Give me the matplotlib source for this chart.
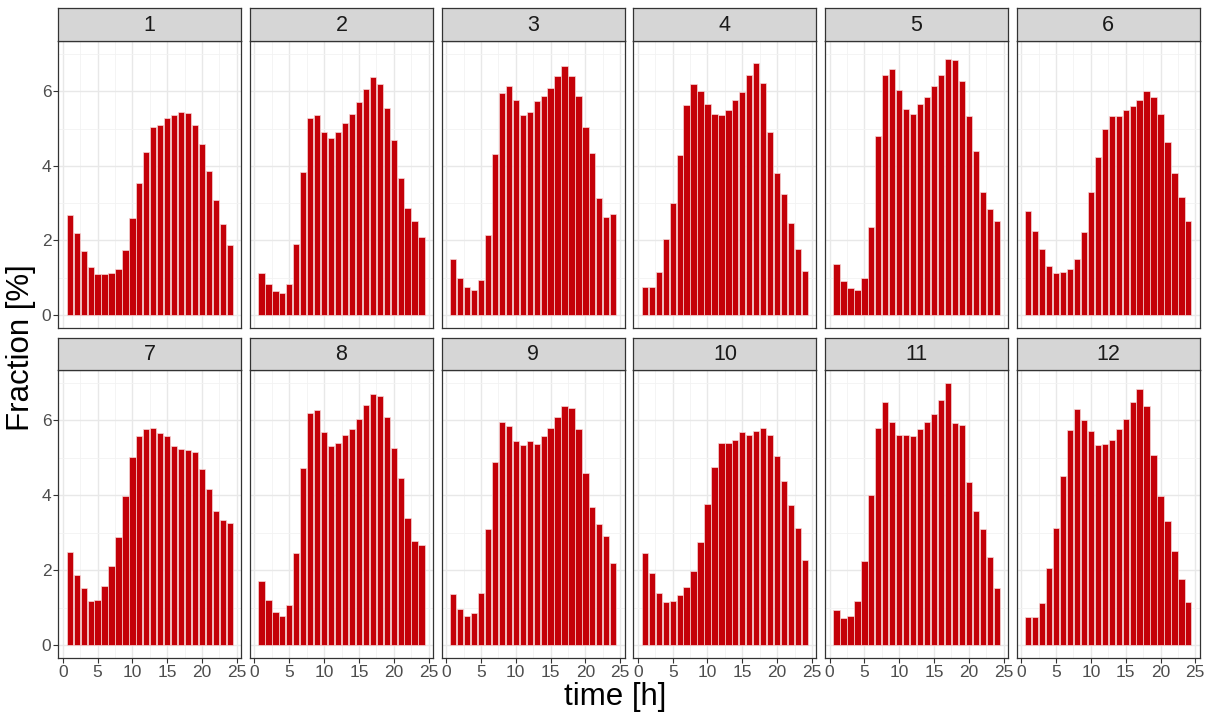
import numpy as np
import matplotlib
matplotlib.use("Agg")
import matplotlib.pyplot as plt

plt.rcParams["font.family"] = ["Liberation Sans", "DejaVu Sans"]

hours = np.arange(1, 25)
months = [str(m) for m in range(1, 13)]

m01 = [2.69, 2.20, 1.72, 1.30, 1.10, 1.11, 1.12, 1.24, 1.74, 2.61, 3.54, 4.38,
       5.03, 5.10, 5.28, 5.37, 5.45, 5.42, 5.09, 4.58, 3.87, 3.08, 2.43, 1.87]
m02 = [1.13, 0.83, 0.64, 0.59, 0.83, 1.90, 3.83, 5.28, 5.36, 4.92, 4.76, 4.90,
       5.15, 5.38, 5.72, 6.07, 6.38, 6.20, 5.56, 4.70, 3.68, 2.87, 2.51, 2.10]
m03 = [1.51, 0.99, 0.76, 0.66, 0.95, 2.14, 4.33, 5.95, 6.15, 5.77, 5.36, 5.44,
       5.75, 5.88, 6.09, 6.41, 6.68, 6.42, 5.88, 5.03, 4.35, 3.13, 2.64, 2.70]
m04 = [0.76, 0.74, 1.14, 2.04, 3.00, 4.30, 5.64, 6.20, 6.01, 5.66, 5.38, 5.36,
       5.51, 5.78, 5.97, 6.45, 6.76, 6.22, 4.92, 3.82, 3.24, 2.47, 1.78, 1.18]
m05 = [1.38, 0.92, 0.71, 0.67, 1.00, 2.37, 4.81, 6.44, 6.60, 6.04, 5.52, 5.40,
       5.67, 5.85, 6.14, 6.44, 6.86, 6.84, 6.28, 5.34, 4.40, 3.29, 2.84, 2.52]
m06 = [2.79, 2.24, 1.76, 1.31, 1.12, 1.16, 1.24, 1.50, 2.22, 3.30, 4.23, 4.98,
       5.34, 5.35, 5.50, 5.61, 5.77, 6.01, 5.86, 5.39, 4.63, 3.82, 3.16, 2.52]
m07 = [2.48, 1.87, 1.52, 1.17, 1.19, 1.57, 2.12, 2.88, 3.97, 5.02, 5.59, 5.77,
       5.79, 5.67, 5.58, 5.32, 5.23, 5.21, 5.16, 4.69, 4.18, 3.59, 3.35, 3.25]
m08 = [1.72, 1.20, 0.88, 0.76, 1.07, 2.45, 4.73, 6.21, 6.29, 5.69, 5.33, 5.40,
       5.60, 5.77, 6.04, 6.41, 6.71, 6.66, 6.10, 5.27, 4.46, 3.40, 2.77, 2.68]
m09 = [1.35, 0.97, 0.78, 0.86, 1.40, 3.09, 4.89, 5.95, 5.84, 5.45, 5.34, 5.44,
       5.36, 5.59, 5.81, 6.09, 6.40, 6.33, 5.77, 4.60, 3.68, 3.22, 2.92, 2.20]
m10 = [2.47, 1.92, 1.39, 1.15, 1.17, 1.33, 1.54, 1.98, 2.75, 3.78, 4.76, 5.40,
       5.40, 5.49, 5.69, 5.62, 5.71, 5.79, 5.61, 5.06, 4.37, 3.73, 3.12, 2.27]
m11 = [0.94, 0.71, 0.76, 1.17, 2.25, 4.01, 5.80, 6.50, 5.96, 5.61, 5.61, 5.58,
       5.76, 5.95, 6.18, 6.56, 7.00, 5.93, 5.88, 4.35, 3.59, 3.09, 2.36, 1.53]
m12 = [0.74, 0.75, 1.12, 2.06, 3.12, 4.52, 5.75, 6.31, 6.02, 5.72, 5.35, 5.37,
       5.49, 5.76, 6.03, 6.49, 6.83, 6.39, 5.07, 3.97, 3.32, 2.51, 1.77, 1.16]

series = [m01, m02, m03, m04, m05, m06, m07, m08, m09, m10, m11, m12]

x_ticks = [0, 5, 10, 15, 20, 25]
y_ticks = [0, 2, 4, 6]

W, H = 1211, 713
fig = plt.figure(figsize=(W / 100, H / 100), dpi=100)
fig.patch.set_facecolor("white")

bar_fill = "#C40008"
grid_major = "#E8E8E8"
grid_minor = "#F2F2F2"
border = "#333333"
tick_col = "#4D4D4D"

left0, step, pw = 58.3, 191.7, 183.0
rows = [(41, 328, 8), (370, 658, 338)]   # panel top, panel bottom, strip top

ymax_all = max(max(s) for s in series)
ylo, yhi = -0.05 * ymax_all, ymax_all * 1.05
xlo, xhi = 0.55 - 0.05 * 23.9, 24.45 + 0.05 * 23.9

for i, (label, vals) in enumerate(zip(months, series)):
    r, c = divmod(i, 6)
    top, bot, stop = rows[r]
    x0 = left0 + c * step
    ax = fig.add_axes([x0 / W, (H - bot) / H, pw / W, (bot - top) / H])
    ax.set_xlim(xlo, xhi)
    ax.set_ylim(ylo, yhi)
    ax.set_xticks(x_ticks)
    ax.set_yticks(y_ticks)
    ax.set_xticks(np.arange(2.5, 25, 5), minor=True)
    ax.set_yticks([1, 3, 5, 7], minor=True)
    ax.grid(True, which="major", color=grid_major, linewidth=1.0)
    ax.grid(True, which="minor", color=grid_minor, linewidth=0.6)
    ax.set_axisbelow(True)
    ax.bar(hours, vals, width=0.9, color=bar_fill, edgecolor="#F6D6D6",
           linewidth=0.5, zorder=3)
    for sp in ax.spines.values():
        sp.set_color(border)
        sp.set_linewidth(0.9)
    ax.tick_params(which="minor", length=0)
    ax.tick_params(which="major", length=3.5, width=0.8, color=border,
                   labelsize=12.5, labelcolor=tick_col, pad=1.5)
    if r == 0:
        ax.tick_params(axis="x", labelbottom=False, bottom=False)
    if c != 0:
        ax.tick_params(axis="y", labelleft=False, left=False)

    sax = fig.add_axes([x0 / W, (H - top) / H, pw / W, (top - stop) / H])
    sax.set_facecolor("#D6D6D6")
    sax.set_xticks([])
    sax.set_yticks([])
    for sp in sax.spines.values():
        sp.set_color(border)
        sp.set_linewidth(0.9)
    sax.text(0.5, 0.47, label, ha="center", va="center", fontsize=15.5,
             color="#1A1A1A", transform=sax.transAxes)

fig.text(615 / W, 1 - 697 / H, "time [h]", ha="center", va="center",
         fontsize=22.5, color="black")
fig.text(21 / W, 1 - 348 / H, "Fraction [%]", ha="center", va="center",
         fontsize=22.5, color="black", rotation=90)

fig.savefig("out.png", dpi=100, facecolor="white")
